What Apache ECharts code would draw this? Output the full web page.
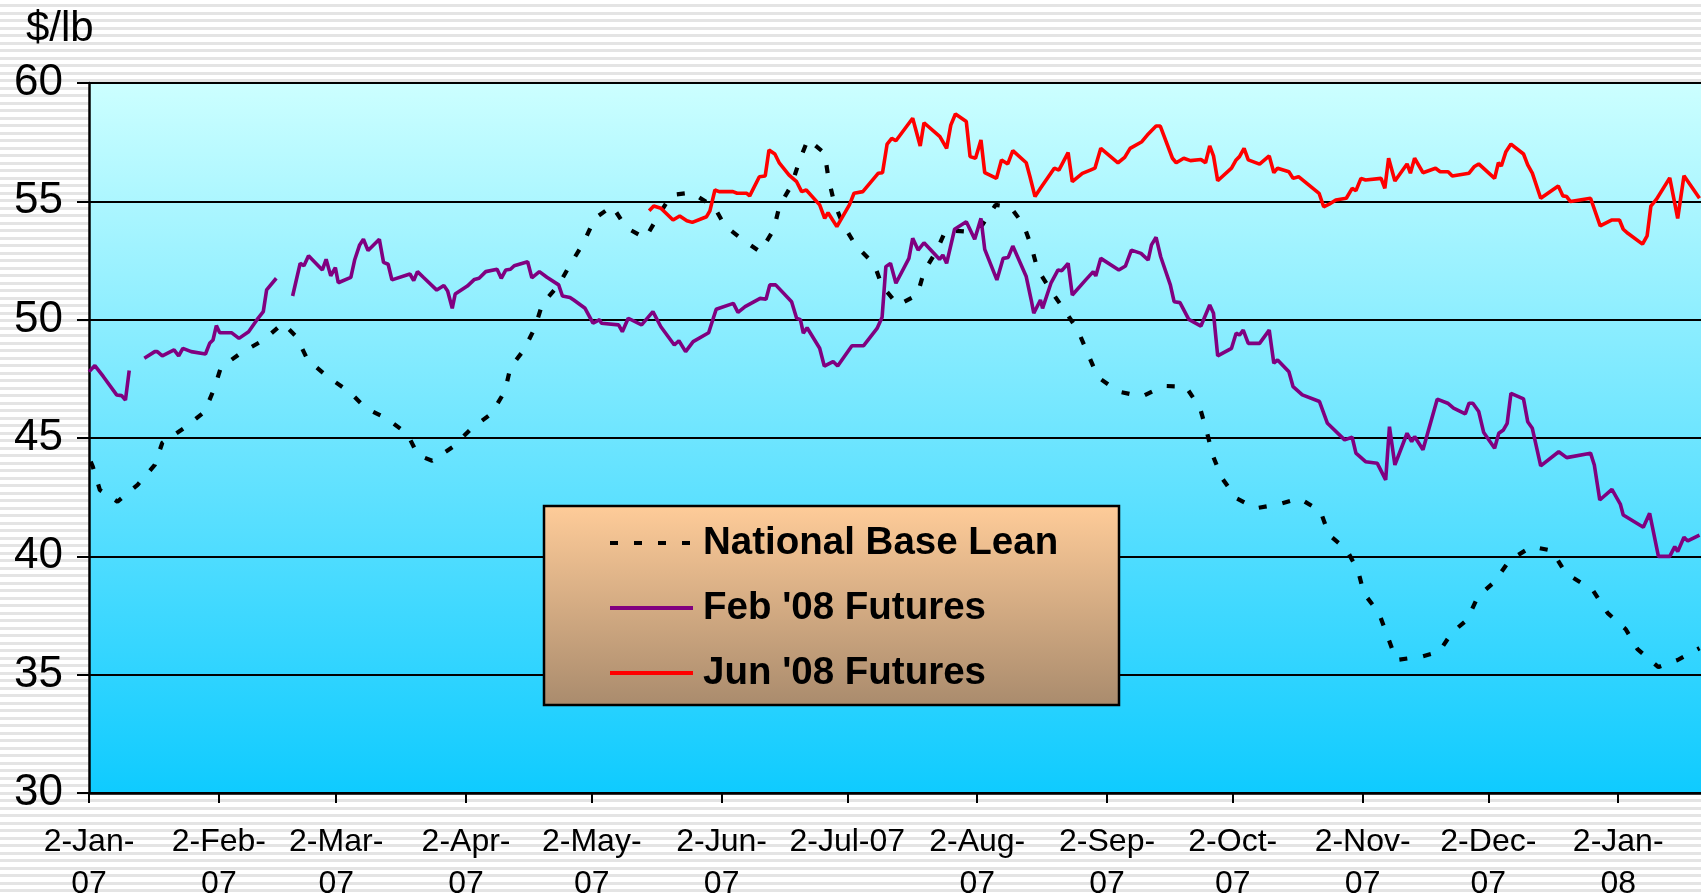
<!DOCTYPE html>
<html>
<head>
<meta charset="utf-8">
<title>Lean hog prices</title>
<script src="https://cdn.jsdelivr.net/npm/echarts@6.0.0/dist/echarts.min.js"></script>
<style>
  html, body { margin: 0; padding: 0; }
  body {
    background: repeating-linear-gradient(to bottom, #ffffff 0px, #ffffff 4.5px, #e4e4e4 4.5px, #e4e4e4 7.5px);
  }
  #chart { width: 1701px; height: 896px; }
</style>
</head>
<body>
<div id="chart"></div>
<script>
// x values are days counted from 2-Jan-07
var tickDays = [0, 31, 59, 90, 120, 151, 181, 212, 243, 273, 304, 334, 365];
var tickLabels = ['2-Jan-\n07', '2-Feb-\n07', '2-Mar-\n07', '2-Apr-\n07', '2-May-\n07', '2-Jun-\n07',
  '2-Jul-07', '2-Aug-\n07', '2-Sep-\n07', '2-Oct-\n07', '2-Nov-\n07', '2-Dec-\n07', '2-Jan-\n08'];

var baseLean = [
  [0.4, 44.0], [0.9, 43.79], [2.6, 42.8], [6.8, 42.31], [11.6, 43.02], [15.7, 43.86], [17.5, 44.8],
  [22.6, 45.41], [27.6, 46.11], [29.9, 47.1], [31.5, 47.99], [36.4, 48.61], [41.7, 49.14], [46.3, 49.85],
  [49.5, 49.28], [52.2, 48.3], [57.1, 47.57], [62.1, 46.96], [66.1, 46.26], [71.0, 45.83], [76.0, 45.17],
  [78.5, 44.28], [81.9, 44.04], [86.9, 44.63], [91.1, 45.37], [96.1, 46.04], [99.3, 46.99], [100.6, 47.99],
  [103.8, 48.72], [106.4, 49.65], [108.2, 50.66], [112.1, 51.47], [114.8, 52.31], [118.0, 53.23],
  [120.7, 54.28], [124.9, 54.8], [128.2, 53.89], [132.8, 53.44], [136.0, 54.42], [139.0, 55.27],
  [143.8, 55.37], [149.3, 54.75], [151.8, 53.96], [156.1, 53.37], [160.2, 52.87], [163.4, 53.79],
  [164.8, 54.8], [167.7, 55.69], [169.5, 56.68], [171.6, 57.62], [175.6, 57.03], [176.5, 55.97],
  [177.8, 54.99], [179.9, 54.04], [183.1, 53.11], [187.4, 52.35], [189.3, 51.42], [193.1, 50.62],
  [197.7, 51.04], [199.3, 52.03], [202.4, 52.94], [204.5, 53.79], [209.4, 53.72], [213.2, 54.0],
  [216.4, 54.85], [220.0, 54.75], [223.1, 54.0], [224.9, 53.11], [226.4, 52.13], [229.5, 51.25],
  [232.8, 50.41], [236.0, 49.56], [238.3, 48.61], [240.8, 47.57], [245.8, 46.96], [251.3, 46.75],
  [256.6, 47.2], [261.8, 47.17], [265.2, 46.26], [266.8, 45.27], [268.2, 44.28], [270.3, 43.34],
  [273.9, 42.45], [278.5, 42.03], [284.2, 42.21], [288.9, 42.45], [293.9, 41.92], [296.0, 40.9],
  [300.1, 40.3], [302.9, 39.4], [304.3, 38.44], [307.9, 37.6], [310.2, 36.5], [312.0, 35.62],
  [318.0, 35.76], [322.3, 35.97], [325.3, 36.78], [328.9, 37.31], [331.5, 38.3], [335.5, 38.93],
  [339.0, 39.82], [344.3, 40.41], [349.2, 40.24], [352.5, 39.28], [358.9, 38.58], [362.5, 37.6],
  [366.8, 36.92], [369.6, 36.08], [374.6, 35.32], [379.2, 35.62], [384.4, 36.12]
];

// null marks a break in the line
var feb08 = [
  [0, 47.8], [1.4, 48.06], [3.4, 47.6], [6.6, 46.82], [7.8, 46.79], [8.7, 46.6], [9.6, 47.85], [11.5, null],
  [13.2, 48.37], [15.7, 48.65], [16.3, 48.65], [17.5, 48.47], [20.3, 48.72], [21.4, 48.47], [22.4, 48.79],
  [24.4, 48.65], [27.8, 48.55], [28.8, 49.0], [29.6, 49.14], [30.4, 49.75], [31.2, 49.45], [34.0, 49.45],
  [35.8, 49.21], [38.1, 49.49], [40.1, 50.0], [41.6, 50.34], [42.4, 51.26], [44.7, 51.75], [46.5, null],
  [48.6, 51.0], [50.4, 52.38], [51.3, 52.28], [52.4, 52.7], [55.7, 52.1], [56.6, 52.55], [57.7, 51.85],
  [58.8, 52.2], [59.5, 51.56], [62.5, 51.79], [63.4, 52.52], [64.6, 53.16], [65.5, 53.4], [66.6, 52.92],
  [69.3, 53.4], [70.3, 52.42], [71.4, 52.34], [72.3, 51.68], [76.6, 51.93], [77.5, 51.65], [78.4, 52.03],
  [79.8, 51.79], [83.0, 51.25], [84.7, 51.44], [85.6, 51.21], [86.7, 50.48], [87.4, 51.08], [90.3, 51.42],
  [92.0, 51.7], [93.1, 51.75], [94.7, 52.03], [97.4, 52.13], [98.4, 51.75], [99.5, 52.1], [100.6, 52.13],
  [101.5, 52.28], [104.7, 52.45], [105.7, 51.77], [107.5, 52.03], [109.3, 51.79], [112.1, 51.47],
  [113.0, 51.0], [114.8, 50.94], [115.7, 50.83], [118.4, 50.48], [120.3, 49.85], [121.9, 50.0],
  [122.3, 49.85], [126.4, 49.78], [127.3, 49.49], [128.7, 50.06], [131.9, 49.78], [134.6, 50.34],
  [136.5, 49.7], [139.7, 48.93], [140.8, 49.11], [142.4, 48.65], [144.2, 49.07], [147.9, 49.45],
  [149.7, 50.44], [153.8, 50.69], [154.9, 50.31], [156.6, 50.55], [160.2, 50.9], [161.6, 50.86],
  [162.5, 51.47], [163.9, 51.47], [167.7, 50.76], [168.9, 50.06], [169.8, 50.0], [170.5, 49.43],
  [171.4, 49.66], [174.4, 48.79], [175.5, 48.04], [177.6, 48.23], [178.7, 48.04], [182.1, 48.9],
  [184.9, 48.9], [188.1, 49.63], [189.3, 50.1], [190.2, 52.24], [191.3, 52.38], [192.6, 51.54],
  [195.7, 52.59], [196.6, 53.44], [197.9, 52.94], [199.3, 53.25], [203.0, 52.55], [203.8, 52.73],
  [204.7, 52.38], [206.6, 53.82], [209.4, 54.14], [211.4, 53.4], [212.9, 54.28], [213.8, 52.97],
  [216.7, 51.68], [218.2, 52.59], [219.4, 52.63], [220.5, 53.11], [223.7, 51.82], [224.9, 50.83],
  [225.5, 50.27], [227.1, 50.83], [227.6, 50.48], [229.6, 51.54], [231.3, 52.1], [232.2, 52.07],
  [233.7, 52.38], [234.7, 51.04], [237.9, 51.68], [239.7, 52.03], [240.3, 51.85], [241.5, 52.59],
  [245.8, 52.1], [247.4, 52.27], [248.8, 52.94], [251.1, 52.8], [252.8, 52.52], [253.6, 53.16],
  [254.7, 53.48], [255.8, 52.66], [258.1, 51.47], [259.0, 50.76], [260.4, 50.72], [262.5, 50.01],
  [265.4, 49.73], [267.5, 50.62], [268.4, 50.27], [269.4, 48.47], [272.7, 48.79], [273.8, 49.43],
  [274.6, 49.35], [275.5, 49.56], [276.7, 49.0], [279.4, 49.0], [281.7, 49.56], [282.8, 48.16],
  [283.7, 48.3], [286.4, 47.8], [287.4, 47.17], [289.6, 46.82], [293.7, 46.54], [295.6, 45.62],
  [299.7, 44.92], [301.5, 45.03], [302.4, 44.36], [304.7, 44.0], [307.5, 43.93], [309.5, 43.23],
  [310.4, 45.48], [311.7, 43.86], [314.6, 45.2], [315.7, 44.85], [316.4, 45.06], [318.4, 44.5],
  [321.8, 46.64], [324.3, 46.47], [325.7, 46.26], [328.5, 46.02], [329.4, 46.47], [330.3, 46.47],
  [331.7, 46.12], [332.9, 45.23], [335.5, 44.57], [336.5, 45.2], [337.6, 45.34], [338.5, 45.62],
  [339.4, 46.89], [342.4, 46.65], [343.4, 45.69], [344.5, 45.41], [346.5, 43.82], [350.8, 44.42],
  [352.7, 44.17], [358.4, 44.36], [359.3, 43.86], [360.6, 42.38], [363.5, 42.83], [365.5, 42.21],
  [366.2, 41.75], [371.0, 41.23], [372.5, 41.82], [374.6, 40.0], [377.3, 40.0], [378.5, 40.41],
  [379.2, 40.2], [380.7, 40.81], [381.6, 40.65], [384.4, 40.9]
];

var jun08 = [
  [133.7, 54.6], [134.8, 54.8], [136.5, 54.71], [139.4, 54.21], [141.0, 54.38], [142.7, 54.18],
  [144.0, 54.11], [147.4, 54.35], [148.2, 54.6], [149.4, 55.48], [150.4, 55.41], [153.7, 55.41],
  [154.7, 55.34], [157.0, 55.34], [157.7, 55.23], [160.0, 56.04], [161.4, 56.07], [162.3, 57.17],
  [163.7, 57.0], [164.8, 56.61], [167.1, 56.11], [168.9, 55.83], [170.1, 55.41], [171.2, 55.48],
  [174.4, 54.85], [175.6, 54.28], [176.4, 54.52], [178.5, 53.93], [181.5, 54.85], [182.6, 55.34],
  [184.7, 55.41], [188.4, 56.19], [189.4, 56.21], [190.5, 57.42], [191.6, 57.66], [192.6, 57.56],
  [196.6, 58.51], [198.4, 57.34], [199.3, 58.32], [203.1, 57.73], [204.7, 57.24], [205.7, 58.22],
  [206.8, 58.69], [209.4, 58.37], [210.3, 56.89], [211.6, 56.82], [212.9, 57.59], [213.8, 56.21],
  [216.6, 55.97], [217.8, 56.75], [219.3, 56.58], [220.5, 57.14], [223.7, 56.63], [224.6, 56.04],
  [225.8, 55.2], [227.1, 55.55], [230.4, 56.4], [231.5, 56.32], [233.7, 57.06], [234.7, 55.83],
  [237.1, 56.18], [239.0, 56.32], [240.1, 56.4], [241.5, 57.24], [245.6, 56.63], [247.2, 56.86],
  [248.5, 57.24], [251.3, 57.52], [252.6, 57.8], [254.7, 58.18], [255.7, 58.18], [258.6, 56.82],
  [259.5, 56.63], [261.3, 56.82], [262.9, 56.72], [265.4, 56.77], [266.5, 56.63], [267.5, 57.34],
  [268.4, 56.92], [269.4, 55.87], [272.7, 56.4], [273.8, 56.75], [274.6, 56.89], [275.7, 57.24],
  [276.7, 56.75], [279.4, 56.57], [281.7, 56.92], [282.8, 56.21], [283.7, 56.4], [286.4, 56.25],
  [287.4, 55.97], [288.7, 56.04], [293.6, 55.34], [294.7, 54.77], [296.0, 54.88], [297.6, 55.06],
  [300.1, 55.13], [301.5, 55.55], [302.4, 55.45], [303.6, 55.97], [304.7, 55.9], [308.4, 55.97],
  [309.3, 55.55], [310.2, 56.82], [311.7, 55.86], [314.6, 56.58], [315.4, 56.19], [316.4, 56.82],
  [318.4, 56.21], [321.4, 56.4], [322.5, 56.25], [324.4, 56.25], [325.4, 56.07], [329.4, 56.19],
  [330.6, 56.46], [331.7, 56.58], [335.5, 55.97], [336.4, 56.63], [337.1, 56.49], [338.2, 57.1],
  [339.4, 57.42], [342.4, 57.0], [343.4, 56.54], [344.5, 56.19], [346.5, 55.13], [350.7, 55.65],
  [351.8, 55.23], [352.7, 55.2], [353.6, 54.99], [358.4, 55.13], [360.7, 53.96], [363.4, 54.21],
  [365.3, 54.21], [366.2, 53.82], [367.3, 53.65], [370.8, 53.19], [371.9, 53.54], [372.8, 54.8],
  [374.1, 55.08], [377.3, 55.99], [379.2, 54.28], [380.7, 56.08], [384.4, 55.13]
];

var font = '"Liberation Sans", Arial, sans-serif';

var chart = echarts.init(document.getElementById('chart'), null, { renderer: 'canvas' });

var option = {
  backgroundColor: 'transparent',
  animation: false,
  textStyle: { fontFamily: font, color: '#000' },
  title: {
    text: '$/lb',
    left: 26,
    top: 8,
    padding: 0,
    textStyle: { fontSize: 42, fontWeight: 'normal', color: '#000', fontFamily: font }
  },
  grid: {
    left: 89,
    right: -1,
    top: 83,
    bottom: 103,
    show: true,
    borderWidth: 0,
    backgroundColor: {
      type: 'linear', x: 0, y: 0, x2: 0, y2: 1,
      colorStops: [{ offset: 0, color: '#ccffff' }, { offset: 1, color: '#0fcbff' }]
    },
    containLabel: false,
    outerBoundsMode: 'none'
  },
  legend: {
    orient: 'vertical',
    left: 603,
    top: 516,
    itemWidth: 83,
    itemHeight: 14,
    itemGap: 21,
    itemStyle: { opacity: 0 },
    lineStyle: { width: 4 },
    textStyle: {
      fontFamily: font, fontSize: 38.5, fontWeight: 'bold', color: '#000',
      lineHeight: 44, padding: [0, 0, 0, 5]
    },
    data: ['National Base Lean', "Feb '08 Futures", "Jun '08 Futures"]
  },
  graphic: [{
    type: 'rect',
    z: 3,
    shape: { x: 544, y: 506, width: 575, height: 199 },
    style: {
      fill: {
        type: 'linear', x: 0, y: 0, x2: 0, y2: 1,
        colorStops: [{ offset: 0, color: '#ffcc99' }, { offset: 1, color: '#a98b6d' }]
      },
      stroke: '#000',
      lineWidth: 2.5
    }
  }],
  xAxis: {
    type: 'value',
    min: 0,
    max: 385,
    axisLine: { show: true, onZero: false, lineStyle: { color: '#000', width: 2.5 } },
    axisTick: { show: true, length: 10, customValues: tickDays, lineStyle: { color: '#000', width: 2 } },
    axisLabel: {
      customValues: tickDays,
      margin: 28,
      fontSize: 32,
      lineHeight: 42,
      color: '#000',
      fontFamily: font,
      formatter: function (value) {
        var i = tickDays.indexOf(value);
        return i >= 0 ? tickLabels[i] : '';
      }
    },
    splitLine: { show: false }
  },
  yAxis: {
    type: 'value',
    min: 30,
    max: 60,
    interval: 5,
    axisLine: { show: true, lineStyle: { color: '#000', width: 2.5 } },
    axisTick: { show: true, length: 12, lineStyle: { color: '#000', width: 2 } },
    axisLabel: { fontSize: 44, margin: 26, color: '#000', fontFamily: font },
    splitLine: { show: true, lineStyle: { color: '#000', width: 2 } }
  },
  series: [
    {
      name: 'National Base Lean',
      type: 'line',
      data: baseLean,
      symbol: 'none',
      lineStyle: { color: '#000', width: 4.2, type: [8, 16], cap: 'butt' },
      itemStyle: { color: '#000' }
    },
    {
      name: "Feb '08 Futures",
      type: 'line',
      data: feb08,
      symbol: 'none',
      connectNulls: false,
      lineStyle: { color: '#800080', width: 3.6 },
      itemStyle: { color: '#800080' }
    },
    {
      name: "Jun '08 Futures",
      type: 'line',
      data: jun08,
      symbol: 'none',
      lineStyle: { color: '#ff0000', width: 3.6 },
      itemStyle: { color: '#ff0000' }
    }
  ]
};

chart.setOption(option);
</script>
</body>
</html>
